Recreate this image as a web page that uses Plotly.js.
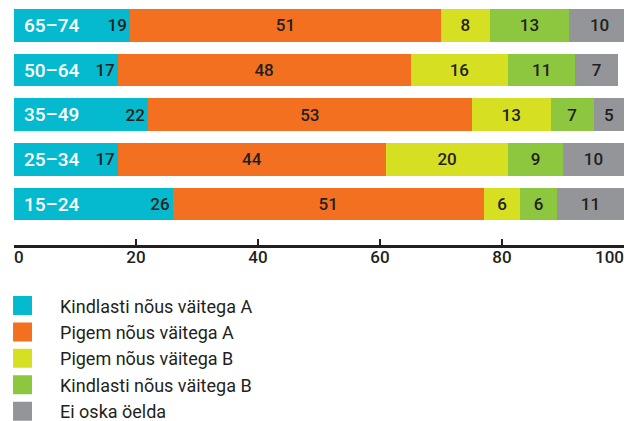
<!DOCTYPE html>
<html><head><meta charset="utf-8">
<script src="https://cdn.plot.ly/plotly-3.0.1.min.js"></script>
<style>
html,body{margin:0;padding:0;background:#fff;}
#chart{width:626px;height:421px;}
</style>
</head><body><div id="chart"></div>
<script>
const ageGroups = ["65–74","50–64","35–49","25–34","15–24"];
const seriesNames = ["Kindlasti nõus väitega A","Pigem nõus väitega A","Pigem nõus väitega B","Kindlasti nõus väitega B","Ei oska öelda"];
const kindlastiA = [19,17,22,17,26];
const pigemA = [51,48,53,44,51];
const pigemB = [8,16,13,20,6];
const kindlastiB = [13,11,7,9,6];
const eiOska = [10,7,5,10,11];
const tickValues = [0,20,40,60,80,100];
const tickLabels = ["0","20","40","60","80","100"];

const seriesValues = [kindlastiA, pigemA, pigemB, kindlastiB, eiOska];
const colors = ["#05bacf","#f37021","#d7df23","#8dc63f","#939598"];
const dark = "#231f20";
const FONT = "Roboto, 'Liberation Sans', sans-serif";
const tickFont = {family: FONT, size: 17, weight: 500, color: dark};

const data = seriesValues.map((vals, i) => ({
  type: 'bar',
  orientation: 'h',
  name: seriesNames[i],
  y: ageGroups,
  x: vals,
  text: vals.map(String),
  textposition: 'inside',
  insidetextanchor: i === 0 ? 'end' : 'middle',
  textangle: 0,
  constraintext: 'none',
  textfont: {family: FONT, size: 17, weight: 500, color: dark},
  marker: {color: colors[i], line: {width: 0}},
  hoverinfo: 'skip'
}));
// empty helper trace so the overlay axis (carrying the right-aligned last label) is drawn
data.push({type: 'scatter', mode: 'markers', x: [], y: [], xaxis: 'x2', yaxis: 'y',
  showlegend: false, hoverinfo: 'skip'});

// main axis: all tick marks; labels for all but the last (the first is nudged right with a figure space)
const lastIdx = tickLabels.length - 1;
const mainTickText = tickLabels.map((t, i) => i === 0 ? '\u2007' + t : (i === lastIdx ? '' : t));

const ageAnnotations = ageGroups.map(g => ({
  xref: 'x', yref: 'y', x: 0, y: g,
  text: g, showarrow: false, xanchor: 'left', yanchor: 'middle', xshift: 8,
  font: {family: FONT, size: 19, weight: 500, color: '#ffffff'}
}));

const layout = {
  width: 626, height: 421,
  margin: {l: 14, r: 2, t: 3, b: 175.5, autoexpand: false},
  paper_bgcolor: '#fff', plot_bgcolor: '#fff',
  barmode: 'stack',
  bargap: 0.27,
  font: {family: FONT, color: dark},
  showlegend: true,
  legend: {
    orientation: 'v', traceorder: 'normal',
    x: -0.0475, xanchor: 'left', y: -0.175, yanchor: 'top',
    itemwidth: 65,
    font: {family: FONT, size: 18, color: dark},
    bgcolor: 'rgba(0,0,0,0)'
  },
  annotations: ageAnnotations,
  xaxis: {
    range: [0, 100], fixedrange: true,
    showgrid: false, zeroline: false,
    showline: true, linecolor: dark, linewidth: 3,
    ticks: 'inside', ticklen: 6, tickwidth: 2, tickcolor: dark,
    tickvals: tickValues, ticktext: mainTickText,
    ticklabeloverflow: 'allow', ticklabelstandoff: -5,
    tickfont: tickFont
  },
  xaxis2: {
    overlaying: 'x', anchor: 'y', side: 'bottom',
    range: [0, 100], fixedrange: true,
    showgrid: false, zeroline: false, showline: false, ticks: '',
    tickvals: [tickValues[lastIdx]], ticktext: [tickLabels[lastIdx]],
    ticklabelposition: 'outside left',
    ticklabeloverflow: 'allow',
    tickfont: tickFont
  },
  yaxis: {
    type: 'category', categoryorder: 'array', categoryarray: ageGroups,
    range: [4.915, -0.5], fixedrange: true,
    showgrid: false, zeroline: false, showline: false, ticks: '',
    showticklabels: false
  }
};

Plotly.newPlot('chart', data, layout, {staticPlot: true, displayModeBar: false}).then(gd => {
  gd.querySelectorAll('.legend .legendpoints path').forEach(p => {
    const t = p.getAttribute('transform') || '';
    p.setAttribute('transform', t + ' scale(1.58)');
  });
});
</script>
</body></html>
